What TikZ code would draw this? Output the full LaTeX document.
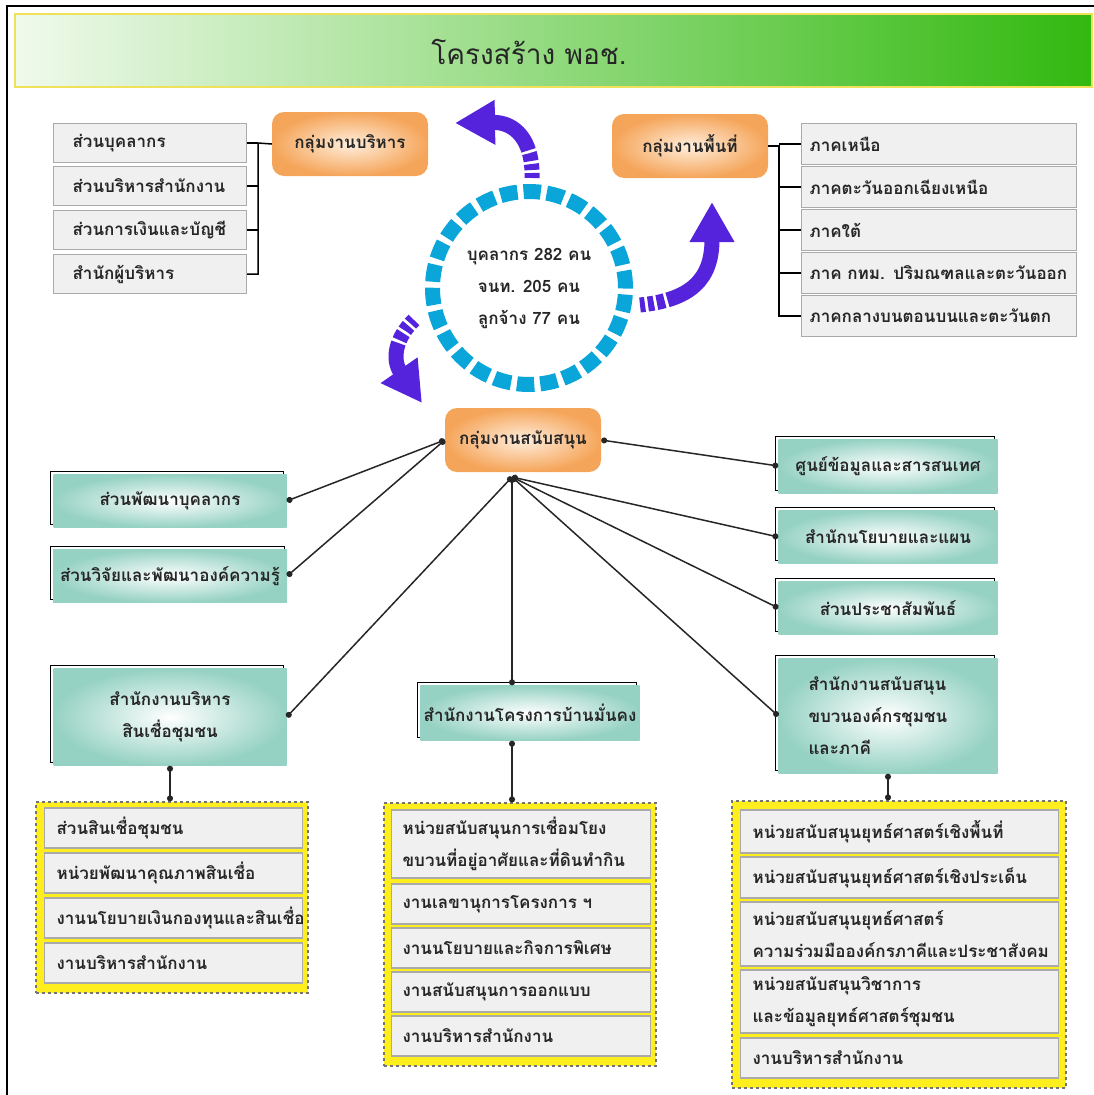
\documentclass[tikz,border=0pt]{standalone}
\usepackage{fontspec}
\setmainfont{Loma}[Script=Thai]
\usetikzlibrary{arrows.meta,shadows}
\definecolor{titleline}{RGB}{240,225,90}
\definecolor{titlelight}{RGB}{240,250,236}
\definecolor{titlemid}{RGB}{165,225,150}
\definecolor{titlegreen}{RGB}{50,185,15}
\definecolor{grayfill}{RGB}{240,240,240}
\definecolor{grayline}{RGB}{170,170,170}
\definecolor{tealc}{RGB}{150,210,195}
\definecolor{orgc}{RGB}{245,165,90}
\definecolor{orgin}{RGB}{255,238,220}
\definecolor{ylw}{RGB}{255,238,30}
\definecolor{cyanc}{RGB}{10,166,218}
\definecolor{purp}{RGB}{85,35,220}

\begin{document}
\begin{tikzpicture}[x=1pt,y=-1pt]
    \tikzstyle{every node}=[font=\fontsize{17}{32}\selectfont\bfseries, text=black!85]
    \tikzstyle{graybox}=[draw=grayline, line width=1.2pt, fill=grayfill, anchor=west, align=left, inner xsep=12pt, inner ysep=0pt]
    \tikzstyle{tealbox}=[shade, inner color=white, outer color=tealc, align=center, general shadow={draw=black, fill=none, line width=1pt, shadow xshift=-3pt, shadow yshift=3pt}]
    \tikzstyle{groupbox}=[rounded corners=12pt, shade, inner color=orgin, outer color=orgc, minimum width=156pt, minimum height=64pt]
    \tikzstyle{ybox}=[draw=black!55, dashed, line width=1.2pt, fill=ylw]
    \tikzstyle{link}=[line width=1.5pt, black!85, {Circle[length=6pt]}-{Circle[length=6pt]}]
    \tikzstyle{turn}=[purp, line width=15pt, -{Triangle[length=40pt,width=42pt]}, dash pattern=on 5pt off 3pt on 6pt off 3pt on 8pt off 3pt on 400pt off 1pt]
    \useasboundingbox (0,0) rectangle (1094,1095);

    % frame and title
    \draw[line width=1.5pt] (7,1095) -- (7,6) -- (1094,6);
    \draw[draw=titleline, line width=2pt, left color=titlelight, middle color=titlemid, right color=titlegreen] (15,14) rectangle (1092,87);
    \node[font=\fontsize{28}{34}\selectfont] (title) at (529,52) {โครงสร้าง พอช.};

    % management group
    \node[groupbox] (mgmt) at (350,144) {กลุ่มงานบริหาร};
    \node[graybox, text width=155pt, minimum height=39pt, inner xsep=19pt] (adm1) at (53,143) {ส่วนบุคลากร};
    \node[graybox, text width=155pt, minimum height=39pt, inner xsep=19pt] (adm2) at (53,186) {ส่วนบริหารสำนักงาน};
    \node[graybox, text width=155pt, minimum height=39pt, inner xsep=19pt] (adm3) at (53,230) {ส่วนการเงินและบัญชี};
    \node[graybox, text width=155pt, minimum height=39pt, inner xsep=19pt] (adm4) at (53,274) {สำนักผู้บริหาร};
    \coordinate (admbus) at (258,143);
    \draw[line width=1.5pt] (mgmt.west) -- (admbus) |- (adm4.east);
    \draw[line width=1.5pt] (adm1.east) -- (admbus);
    \draw[line width=1.5pt] (adm2.east) -- (adm2.east -| admbus);
    \draw[line width=1.5pt] (adm3.east) -- (adm3.east -| admbus);

    % area group
    \node[groupbox] (area) at (690,146) {กลุ่มงานพื้นที่};
    \node[graybox, text width=259pt, minimum height=41pt, inner xsep=8pt] (reg1) at (801,144) {ภาคเหนือ};
    \node[graybox, text width=259pt, minimum height=41pt, inner xsep=8pt] (reg2) at (801,187) {ภาคตะวันออกเฉียงเหนือ};
    \node[graybox, text width=259pt, minimum height=41pt, inner xsep=8pt] (reg3) at (801,230) {ภาคใต้};
    \node[graybox, text width=259pt, minimum height=41pt, inner xsep=8pt] (reg4) at (801,273) {ภาค กทม. ปริมณฑลและตะวันออก};
    \node[graybox, text width=259pt, minimum height=41pt, inner xsep=8pt] (reg5) at (801,316) {ภาคกลางบนตอนบนและตะวันตก};
    \coordinate (regbus) at (779,146);
    \draw[line width=1.5pt] (area.east) -- (regbus) |- (reg5.west);
    \draw[line width=1.5pt] (reg1.west -| regbus) -- (reg1.west);
    \draw[line width=1.5pt] (reg2.west -| regbus) -- (reg2.west);
    \draw[line width=1.5pt] (reg3.west -| regbus) -- (reg3.west);
    \draw[line width=1.5pt] (reg4.west -| regbus) -- (reg4.west);

    % staff ring
    \node[circle, draw=cyanc, line width=15pt, minimum size=193pt, dash pattern=on 17.3pt off 6pt, align=center] (staff) at (529,288) {บุคลากร 282 คน\\จนท. 205 คน\\ลูกจ้าง 77 คน};
    \draw[turn] (532,178) .. controls (533,140) and (515,122) .. (455,123);
    \draw[turn] (640,305) .. controls (690,300) and (712,280) .. (712,202);
    \draw[turn] (414,320) .. controls (395,338) and (392,360) .. (422,403);

    % support group
    \node[groupbox] (supp) at (523,440) {กลุ่มงานสนับสนุน};
    \coordinate (hub) at (512,477);
    \node[tealbox, minimum width=233pt, minimum height=53pt] (hrd) at (170,501) {ส่วนพัฒนาบุคลากร};
    \node[tealbox, minimum width=234pt, minimum height=53pt] (rnd) at (170,576) {ส่วนวิจัยและพัฒนาองค์ความรู้};
    \node[tealbox, minimum width=233pt, minimum height=97pt] (crd) at (170,717) {สำนักงานบริหาร\\สินเชื่อชุมชน};
    \node[tealbox, minimum width=219pt, minimum height=55pt] (bmk) at (530,713) {สำนักงานโครงการบ้านมั่นคง};
    \node[tealbox, minimum width=219pt, minimum height=54pt] (info) at (888,466) {ศูนย์ข้อมูลและสารสนเทศ};
    \node[tealbox, minimum width=219pt, minimum height=53pt] (plan) at (888,537) {สำนักนโยบายและแผน};
    \node[tealbox, minimum width=219pt, minimum height=53pt] (pr) at (888,608) {ส่วนประชาสัมพันธ์};
    \node[tealbox, minimum width=219pt, minimum height=115pt, align=left, text width=159pt] (codi) at (888,716) {สำนักงานสนับสนุน\\ขบวนองค์กรชุมชน\\และภาคี};
    \draw[link] (supp.west) -- (hrd.east);
    \draw[link] (supp.west) -- (rnd.east);
    \draw[link] (hub) -- (crd.east);
    \draw[link] (hub) -- (hub |- bmk.north);
    \draw[link] (supp.east) -- (info.west);
    \draw[link] (hub) -- (plan.west);
    \draw[link] (hub) -- (pr.west);
    \draw[link] (hub) -- (codi.west);

    % units under the offices
    \node[ybox, minimum width=272pt, minimum height=191pt] (grpL) at (172,897.5) {};
    \node[ybox, minimum width=272pt, minimum height=263pt] (grpM) at (520,934.5) {};
    \node[ybox, minimum width=334pt, minimum height=287pt] (grpR) at (899,944.5) {};
    \draw[link] (crd.south) -- (crd.south |- grpL.north);
    \draw[link] (bmk.south -| hub) -- (grpM.north -| hub);
    \draw[link] (codi.south) -- (codi.south |- grpR.north);

    \node[graybox, text width=234pt, minimum height=40pt] (crd1) at (44,828) {ส่วนสินเชื่อชุมชน};
    \node[graybox, text width=234pt, minimum height=40pt] (crd2) at (44,873) {หน่วยพัฒนาคุณภาพสินเชื่อ};
    \node[graybox, text width=234pt, minimum height=40pt] (crd3) at (44,918) {งานนโยบายเงินกองทุนและสินเชื่อ};
    \node[graybox, text width=234pt, minimum height=40pt] (crd4) at (44,963) {งานบริหารสำนักงาน};

    \node[graybox, text width=237pt, minimum height=68pt, inner xsep=11pt] (bmk1) at (391,844) {หน่วยสนับสนุนการเชื่อมโยง\\ขบวนที่อยู่อาศัยและที่ดินทำกิน};
    \node[graybox, text width=237pt, minimum height=40pt, inner xsep=11pt] (bmk2) at (391,904) {งานเลขานุการโครงการ ฯ};
    \node[graybox, text width=237pt, minimum height=40pt, inner xsep=11pt] (bmk3) at (391,948) {งานนโยบายและกิจการพิเศษ};
    \node[graybox, text width=237pt, minimum height=40pt, inner xsep=11pt] (bmk4) at (391,992) {งานสนับสนุนการออกแบบ};
    \node[graybox, text width=237pt, minimum height=40pt, inner xsep=11pt] (bmk5) at (391,1036) {งานบริหารสำนักงาน};

    \node[graybox, text width=294pt, minimum height=43pt] (codi1) at (740,831.5) {หน่วยสนับสนุนยุทธ์ศาสตร์เชิงพื้นที่};
    \node[graybox, text width=294pt, minimum height=41pt] (codi2) at (740,877.5) {หน่วยสนับสนุนยุทธ์ศาสตร์เชิงประเด็น};
    \node[graybox, text width=294pt, minimum height=64pt] (codi3) at (740,934) {หน่วยสนับสนุนยุทธ์ศาสตร์\\ความร่วมมือองค์กรภาคีและประชาสังคม};
    \node[graybox, text width=294pt, minimum height=63pt] (codi4) at (740,1001.5) {หน่วยสนับสนุนวิชาการ\\และข้อมูลยุทธ์ศาสตร์ชุมชน};
    \node[graybox, text width=294pt, minimum height=40pt] (codi5) at (740,1058) {งานบริหารสำนักงาน};

\end{tikzpicture}
\end{document}
